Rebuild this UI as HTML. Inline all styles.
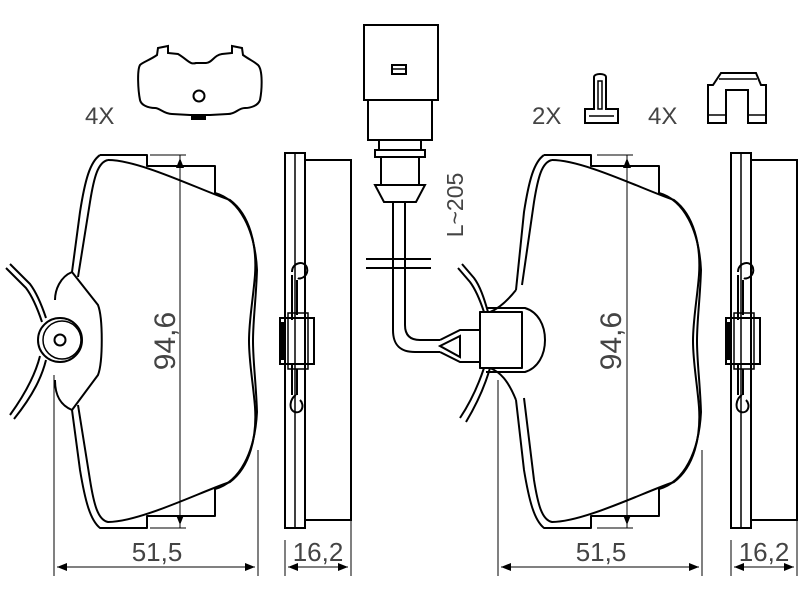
<!DOCTYPE html>
<html><head><meta charset="utf-8"><style>
html,body{margin:0;padding:0;background:#fff;}
svg{display:block;}
text{font-family:"Liberation Sans",sans-serif;fill:#444;}
</style></head><body>
<svg width="800" height="600" viewBox="0 0 800 600" xmlns="http://www.w3.org/2000/svg">
<defs>
<marker id="ar" markerWidth="10" markerHeight="8" refX="10" refY="4" orient="auto" markerUnits="userSpaceOnUse">
<path d="M0,0 L10,4 L0,8 z" fill="#000"/></marker>
</defs>
<g fill="none" stroke="#000" stroke-width="2" stroke-linejoin="round">

<!-- LEFT PAD -->
<path d="M100,155 L147,155 L147,166 L215,166 L215,193 C240,200 255,230 257,270 C256,300 253,320 253,341 C253,362 256,382 257,412 C255,452 240,482 215,489 L215,516 L147,516 L147,528 L100,528 C90,520 85,500 80,470 L72,410 C60,405 55,395 55,380"/>
<path d="M100,155 C90,162 85,180 80,212 L72,272 C60,277 55,290 55,300"/>
<path d="M72,272 L98,305 C103,318 103,362 98,375 L72,410" />
<path d="M108,160 C140,160 200,190 230,200 C250,215 257,245 255,275 C253,300 249,320 249,341 C249,362 253,382 255,407 C257,437 250,467 230,482 C200,492 140,522 108,522 C98,520 94,505 90,480 L78,405"/>
<path d="M108,160 C98,162 94,177 90,202 L78,277"/>
<circle cx="60" cy="340" r="22"/>
<circle cx="62" cy="340" r="19" stroke-width="1.5"/>
<circle cx="60" cy="340" r="5.5"/>
<path d="M6,268 L26,288 C32,296 38,310 42,322"/>
<path d="M10,264 L30,284 C36,292 42,306 46,318"/>
<path d="M40,356 C36,372 28,390 10,415"/>
<path d="M46,360 C42,376 34,394 14,419"/>
</g>
<g stroke="#000" stroke-width="1" fill="none">
<line x1="180" y1="155" x2="180" y2="528"/>
<line x1="150" y1="155" x2="186" y2="155"/>
<line x1="150" y1="528" x2="186" y2="528"/>
<line x1="180" y1="341" x2="180" y2="158" marker-end="url(#ar)"/>
<line x1="180" y1="341" x2="180" y2="525" marker-end="url(#ar)"/>
<line x1="54" y1="375" x2="54" y2="576"/>
<line x1="258" y1="450" x2="258" y2="576"/>
<line x1="156" y1="567" x2="57" y2="567" marker-end="url(#ar)"/>
<line x1="156" y1="567" x2="255" y2="567" marker-end="url(#ar)"/>
</g>
<text x="157" y="561" font-size="26" text-anchor="middle">51,5</text>
<text transform="translate(175,341) rotate(-90)" font-size="30" text-anchor="middle">94,6</text>

<!-- LEFT SIDE VIEW -->
<g fill="none" stroke="#000" stroke-width="2">
<rect x="285" y="153" width="20" height="375"/>
<line x1="295" y1="153" x2="295" y2="528" stroke-width="1.5"/>
<rect x="305" y="160" width="46" height="360"/>
<path d="M292,272 C292,262 305,260 307,268 C309,276 300,280 298,278 M292,275 L292,320 M297,280 L297,315"/>
<rect x="280" y="318" width="34" height="46"/>
<rect x="288" y="313" width="20" height="56" stroke-width="1.5"/>
<path d="M292,364 L292,395 M297,369 L297,395 M296,395 C290,398 288,410 295,412 C302,414 305,405 300,400"/>
</g>
<rect x="279" y="322" width="5" height="38" fill="#000"/>
<g stroke="#000" stroke-width="1">
<line x1="285" y1="540" x2="285" y2="576"/>
<line x1="351" y1="520" x2="351" y2="576"/>
<line x1="318" y1="567" x2="288" y2="567" marker-end="url(#ar)"/>
<line x1="318" y1="567" x2="348" y2="567" marker-end="url(#ar)"/>
</g>
<text x="318" y="561" font-size="26" text-anchor="middle">16,2</text>

<!-- TOP LEFT PLATE -->
<text x="85" y="124" font-size="24">4X</text>
<g fill="none" stroke="#000" stroke-width="2">
<path d="M158,48 L168,46 L168,53 L178,54 C188,60 190,65 196,63 L206,63 C212,63 214,55 222,54 L232,53 L232,46 L242,48 L243,55 C250,60 255,62 258,65 C263,70 262,90 260,100 C258,106 250,108 245,108 C238,108 236,114 228,114 L210,115 L190,115 L172,114 C164,114 160,108 155,108 C148,108 141,105 140,100 C138,90 137,70 140,65 C143,62 150,60 157,55 Z"/>
<circle cx="199" cy="96" r="5.5"/>
</g>
<rect x="191" y="115" width="15" height="5" fill="#000"/>

<!-- WIRE SENSOR -->
<g fill="none" stroke="#000" stroke-width="2">
<rect x="364" y="25" width="74" height="75"/>
<rect x="368" y="100" width="64" height="40"/>
<rect x="392" y="65" width="14" height="9"/>
<line x1="392" y1="69" x2="406" y2="69" stroke-width="1.5"/>
<rect x="375" y="150" width="50" height="7"/>
<rect x="379" y="140" width="42" height="10"/>
<rect x="381" y="157" width="38" height="28"/>
<path d="M375,185 L425,185 L416,202 L384,202 Z"/>
<path d="M393,202 L393,330 C393,345 400,352 415,352 L440,352"/>
<path d="M405,202 L405,325 C405,335 410,340 420,340 L440,340"/>
<line x1="366" y1="259" x2="431" y2="259"/>
<line x1="366" y1="268" x2="431" y2="268"/>
<path d="M440,340 L460,330 L480,330 L480,362 L460,362 L440,352"/>
<path d="M440,346 L460,336 L460,357 Z"/>
</g>
<text transform="translate(463,205) rotate(-90)" font-size="23" text-anchor="middle">L~205</text>

<!-- RIGHT PAD -->
<g fill="none" stroke="#000" stroke-width="2" stroke-linejoin="round">
<path d="M544,155 L591,155 L591,166 L659,166 L659,193 C684,200 699,230 701,270 C700,300 697,320 697,341 C697,362 700,382 701,412 C699,452 684,482 659,489 L659,516 L591,516 L591,528 L544,528 C534,520 529,500 524,470 L516,400"/>
<path d="M544,155 C534,162 529,180 524,212 L516,290"/>
<path d="M552,160 C584,160 644,190 674,200 C694,215 701,245 699,275 C697,300 693,320 693,341 C693,362 697,382 699,407 C701,437 694,467 674,482 C644,492 584,522 552,522 C542,520 538,505 534,480 L524,398"/>
<path d="M552,160 C542,162 538,177 534,202 L522,285"/>
<path d="M516,290 C508,300 500,308 490,312 L480,312 L480,368 L490,368 C500,372 508,380 516,400"/>
<path d="M486,308 L525,308 C538,312 545,325 545,340 C545,355 538,368 525,372 L486,372"/>
<rect x="480" y="312" width="42" height="56"/>
<path d="M458,268 L470,282 C476,290 480,300 484,312"/>
<path d="M462,264 L474,278 C480,286 484,298 488,312"/>
<path d="M484,368 C480,380 472,400 460,418"/>
<path d="M490,368 C486,382 478,402 466,422"/>
</g>
<g stroke="#000" stroke-width="1" fill="none">
<line x1="627" y1="155" x2="627" y2="528"/>
<line x1="597" y1="155" x2="633" y2="155"/>
<line x1="597" y1="528" x2="633" y2="528"/>
<line x1="627" y1="341" x2="627" y2="158" marker-end="url(#ar)"/>
<line x1="627" y1="341" x2="627" y2="525" marker-end="url(#ar)"/>
<line x1="498" y1="380" x2="498" y2="576"/>
<line x1="702" y1="450" x2="702" y2="576"/>
<line x1="600" y1="567" x2="501" y2="567" marker-end="url(#ar)"/>
<line x1="600" y1="567" x2="699" y2="567" marker-end="url(#ar)"/>
</g>
<text x="601" y="561" font-size="26" text-anchor="middle">51,5</text>
<text transform="translate(621,341) rotate(-90)" font-size="30" text-anchor="middle">94,6</text>

<!-- RIGHT SIDE VIEW -->
<g fill="none" stroke="#000" stroke-width="2">
<rect x="731" y="153" width="20" height="375"/>
<line x1="741" y1="153" x2="741" y2="528" stroke-width="1.5"/>
<rect x="751" y="160" width="46" height="360"/>
<path d="M738,272 C738,262 751,260 753,268 C755,276 746,280 744,278 M738,275 L738,320 M743,280 L743,315"/>
<rect x="726" y="318" width="34" height="46"/>
<rect x="734" y="313" width="20" height="56" stroke-width="1.5"/>
<path d="M738,364 L738,395 M743,369 L743,395 M742,395 C736,398 734,410 741,412 C748,414 751,405 746,400"/>
</g>
<rect x="725" y="322" width="5" height="38" fill="#000"/>
<g stroke="#000" stroke-width="1">
<line x1="731" y1="540" x2="731" y2="576"/>
<line x1="797" y1="520" x2="797" y2="576"/>
<line x1="764" y1="567" x2="734" y2="567" marker-end="url(#ar)"/>
<line x1="764" y1="567" x2="794" y2="567" marker-end="url(#ar)"/>
</g>
<text x="764" y="561" font-size="26" text-anchor="middle">16,2</text>

<!-- SMALL CLIPS -->
<text x="532" y="124" font-size="24">2X</text>
<text x="648" y="124" font-size="24">4X</text>
<g fill="none" stroke="#000" stroke-width="2">
<path d="M594,77 C594,73 606,73 606,77 L606,109 L618,109 L618,123 L585,123 L585,109 L594,109 Z"/>
<path d="M598,81 L602,81 L602,109 L598,109 Z" stroke-width="1.5"/>
<line x1="589" y1="116" x2="614" y2="116" stroke-width="1.5"/>
<path d="M721,73 L756,73 L761,85 L766,85 L766,123 L748,123 L748,90 L726,90 L726,123 L708,123 L708,85 L713,85 Z"/>
<line x1="709" y1="115" x2="725" y2="115" stroke-width="1.5"/>
<line x1="749" y1="115" x2="765" y2="115" stroke-width="1.5"/>
<line x1="719" y1="79" x2="757" y2="79" stroke-width="1.5"/>
</g>
</svg>
</body></html>
